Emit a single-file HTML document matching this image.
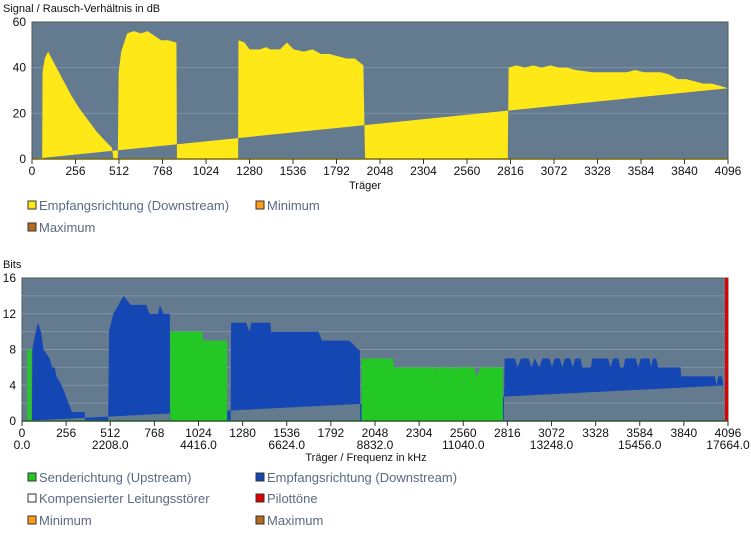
<!DOCTYPE html>
<html><head><meta charset="utf-8"><style>
body{margin:0;background:#fff;width:751px;height:535px;overflow:hidden;font-family:"Liberation Sans",sans-serif}
svg text{font-family:"Liberation Sans",sans-serif}
</style></head><body>
<svg id="s" width="751" height="535"></svg>
<script>
const snrTicks=[0,256,512,768,1024,1280,1536,1792,2048,2304,2560,2816,3072,3328,3584,3840,4096];
const snrY=[0,20,40,60];
const snrDown=[[0,0],[60,0],[62,38],[75,44],[95,47],[130,42],[180,35],[230,28],[280,22],[330,17],[380,12],[430,8],[470,5],[480,0],[505,0],[510,38],[525,47],[560,55],[600,56],[640,55],[680,56],[720,54],[760,52],[800,52],[850,51],[853,0],[1213,0],[1215,52],[1250,51],[1280,48],[1340,48],[1380,49],[1400,48],[1460,48],[1500,51],[1540,48],[1600,47],[1650,48],[1700,46],[1750,46],[1800,45],[1850,44],[1900,44],[1950,41],[1960,0],[2800,0],[2805,40],[2850,41],[2900,40],[2950,41],[3000,40],[3050,41],[3100,40],[3150,40],[3200,39],[3300,38],[3400,38],[3500,38],[3550,39],[3600,38],[3700,38],[3750,37],[3800,35],[3850,35],[3900,34],[3950,33],[4000,33],[4050,32],[4096,31]];
const bitsY=[0,4,8,12,16];
const freqLabels=["0.0","2208.0","4416.0","6624.0","8832.0","11040.0","13248.0","15456.0","17664.0"];
const bitsDown=[[0,0],[58,0],[60,8],[80,10],[93,11],[110,10],[125,8],[160,7],[175,6],[190,6],[200,5],[230,4],[250,3],[270,2],[290,1],[365,1],[365,0],[500,0],[505,10],[530,12],[560,13],[590,14],[630,13],[720,13],[740,12],[790,12],[800,13],[820,12],[858,12],[858,0],[1211,0],[1213,11],[1300,11],[1320,10],[1330,11],[1440,11],[1445,10],[1720,10],[1740,9],[1900,9],[1950,8],[1960,8],[1962,0],[2795,0],[2800,7],[2860,7],[2875,6],[2895,7],[2940,7],[2955,6],[2975,7],[3000,6],[3020,7],[3060,7],[3075,6],[3090,7],[3120,7],[3135,6],[3150,7],[3180,7],[3195,6],[3210,7],[3240,7],[3250,6],[3300,6],[3310,7],[3400,7],[3415,6],[3430,7],[3460,7],[3470,6],[3490,6],[3500,7],[3560,7],[3575,6],[3590,7],[3640,7],[3650,6],[3660,7],[3680,7],[3690,6],[3820,6],[3825,5],[4020,5],[4030,4],[4040,5],[4060,5],[4070,4],[4096,4]];
const bitsUp=[[30,0],[30,8],[55,8],[55,0],[860,0],[860,10],[1045,10],[1050,9],[1190,9],[1190,0],[1970,0],[1970,7],[2150,7],[2160,6],[2390,6],[2395,5.5],[2400,6],[2500,6],[2505,5.5],[2510,6],[2620,6],[2640,5],[2660,6],[2790,6],[2790,0]];
const pilot=[4096];

const NS="http://www.w3.org/2000/svg",S=document.getElementById('s');
function el(t,a,p){const e=document.createElementNS(NS,t);for(const k in a)e.setAttribute(k,a[k]);(p||S).appendChild(e);return e;}
function txt(x,y,s,anchor,size,fill){const e=el('text',{x:x,y:y,'font-size':size||12,fill:fill||'#111','text-anchor':anchor||'start'});e.textContent=s;return e;}

const A={x0:32,x1:728,y0:159,y1:22,ymax:60};
const ax=c=>A.x0+(A.x1-A.x0)*c/4096, ay=v=>A.y0-(A.y0-A.y1)*v/A.ymax;
let r=el('rect',{x:A.x0,y:A.y1,width:A.x1-A.x0,height:A.y0-A.y1,fill:'#637a8f',stroke:'#555'});

snrY.forEach(v=>{if(v>0&&v<60)el('line',{x1:A.x0,x2:A.x1,y1:ay(v),y2:ay(v),stroke:'#8094a6'});
 let t=txt(A.x0-6,ay(v)+4,String(v),'end',12);});
let p=el('polygon',{points:snrDown.map(d=>ax(d[0])+','+ay(d[1])).join(' '),fill:'#ffe817'});

el('line',{x1:A.x0,x2:A.x1,y1:A.y0,y2:A.y0,stroke:'#7a6a10','stroke-width':1.5});
snrTicks.forEach(c=>{el('line',{x1:ax(c),x2:ax(c),y1:A.y0,y2:A.y0+5,stroke:'#333'});
 let t=txt(ax(c),A.y0+16,String(c),'middle',12);});
let t1=txt(3,12,'Signal / Rausch-Verhältnis in dB','start',11);
let t2=txt(365,189,'Träger','middle',11);

function legend(x,y,color,label,name){const g=el('g',{});
 el('rect',{x:x,y:y-9,width:8,height:8,fill:color,stroke:'#333','stroke-width':1},g);
 const t=el('text',{x:x+11,y:y,'font-size':13,fill:'#5a6a80'},g);t.textContent=label;}
legend(28,210,'#ffe817','Empfangsrichtung (Downstream)','legend-snr-downstream');
legend(256,210,'#ff9a1a','Minimum','legend-snr-minimum');
legend(28,232,'#b86a20','Maximum','legend-snr-maximum');

const B={x0:22,x1:728,y0:421,y1:278,ymax:16};
const bx=c=>B.x0+(B.x1-B.x0)*c/4096, by=v=>B.y0-(B.y0-B.y1)*v/B.ymax;
r=el('rect',{x:B.x0,y:B.y1,width:B.x1-B.x0,height:B.y0-B.y1,fill:'#637a8f',stroke:'#555'});

for(let v=2;v<16;v+=2)el('line',{x1:B.x0,x2:B.x1,y1:by(v),y2:by(v),stroke:'#8094a6'});
bitsY.forEach(v=>{let t=txt(B.x0-6,by(v)+4,String(v),'end',12);});
p=el('polygon',{points:bitsDown.map(d=>bx(d[0])+','+by(d[1])).join(' '),fill:'#1446b4'});

p=el('polygon',{points:bitsUp.map(d=>bx(d[0])+','+by(d[1])).join(' '),fill:'#24c824'});

pilot.forEach(c=>{let l=el('rect',{x:bx(c)-3,y:B.y1,width:3,height:B.y0-B.y1,fill:'#e00000'});});
el('line',{x1:B.x0,x2:B.x1,y1:B.y0,y2:B.y0,stroke:'#2a5a2a','stroke-width':1.5});
snrTicks.forEach((c,i)=>{el('line',{x1:bx(c),x2:bx(c),y1:B.y0,y2:B.y0+5,stroke:'#333'});
 let t=txt(bx(c),B.y0+16,String(c),'middle',12);
 if(i%2==0){let f=txt(bx(c),B.y0+28,freqLabels[i/2],'middle',12);}});
t1=txt(3,268,'Bits','start',11);
t2=txt(366,461,'Träger / Frequenz in kHz','middle',11);
legend(28,482,'#24c824','Senderichtung (Upstream)','legend-upstream');
legend(256,482,'#1446b4','Empfangsrichtung (Downstream)','legend-downstream');
legend(28,503,'#ffffff','Kompensierter Leitungsstörer','legend-compensated');
legend(256,503,'#e00000','Pilottöne','legend-pilot');
legend(28,525,'#ff9a1a','Minimum','legend-bits-minimum');
legend(256,525,'#b86a20','Maximum','legend-bits-maximum');
</script>
</body></html>
